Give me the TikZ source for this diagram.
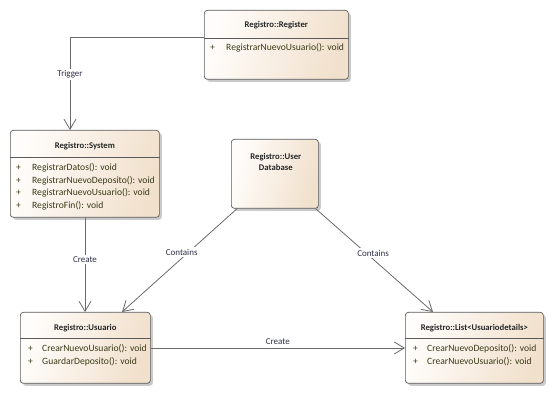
\documentclass[tikz,border=0pt]{standalone}
\usepackage{fontspec}
\setmainfont{Carlito}
\usetikzlibrary{arrows.meta,calc,shadows}

\definecolor{boxedge}{HTML}{5A5A5A}
\definecolor{boxlight}{HTML}{FFFDFB}
\definecolor{boxdark}{HTML}{F1E0CC}
\definecolor{wire}{HTML}{6A6A6A}
\definecolor{optext}{HTML}{3A3A18}
\definecolor{lbltext}{HTML}{2E2E48}

\tikzset{
  umlbox/.style={draw=boxedge, line width=0.7pt, rounded corners=3pt,
    left color=boxlight, right color=boxdark, shading angle=75,
    drop shadow={shadow xshift=2.5pt, shadow yshift=-2.5pt, opacity=0.35, fill=black!60},
    anchor=north west, inner sep=0pt},
  boxtitle/.style={font=\fontsize{8.7}{10.5}\selectfont\bfseries, text=black!85, inner sep=0pt},
  optxt/.style={font=\fontsize{9.6}{11}\selectfont, text=optext, anchor=west, inner sep=0pt},
  sepline/.style={draw=boxedge, line width=0.6pt},
  conn/.style={draw=wire, line width=0.8pt, -{Straight Barb[length=10pt,width=12pt,line width=0.8pt]}},
  lbl/.style={font=\fontsize{9}{10}\selectfont, text=lbltext, fill=white, inner sep=1.5pt}
}

\begin{document}
\begin{tikzpicture}[x=1pt, y=-1pt]
\useasboundingbox (0,0) rectangle (550,411);

% Registro::Register
\node[umlbox, minimum width=144, minimum height=69] (reg) at (204,10) {};
\node[boxtitle] (regT) at ($(reg.north)+(0,15)$) {Registro::Register};
\draw[sepline] ($(reg.north west)+(0,28)$) -- ($(reg.north east)+(0,28)$);
\node[optxt] (regP1) at ($(reg.north west)+(6,38)$) {+};
\node[optxt] (regM1) at ($(reg.north west)+(22,38)$) {RegistrarNuevoUsuario(): void};

% Registro::System
\node[umlbox, minimum width=149, minimum height=87] (sys) at (10,130) {};
\node[boxtitle] (sysT) at ($(sys.north)+(0,16)$) {Registro::System};
\draw[sepline] ($(sys.north west)+(0,27)$) -- ($(sys.north east)+(0,27)$);
\node[optxt] (sysP1) at ($(sys.north west)+(6,38)$) {+};
\node[optxt] (sysM1) at ($(sys.north west)+(22,38)$) {RegistrarDatos(): void};
\node[optxt] (sysP2) at ($(sys.north west)+(6,51)$) {+};
\node[optxt] (sysM2) at ($(sys.north west)+(22,51)$) {RegistrarNuevoDeposito(): void};
\node[optxt] (sysP3) at ($(sys.north west)+(6,63)$) {+};
\node[optxt] (sysM3) at ($(sys.north west)+(22,63)$) {RegistrarNuevoUsuario(): void};
\node[optxt] (sysP4) at ($(sys.north west)+(6,76)$) {+};
\node[optxt] (sysM4) at ($(sys.north west)+(22,76)$) {RegistroFin(): void};

% Registro::User Database
\node[umlbox, minimum width=87, minimum height=69] (udb) at (231,139) {};
\node[boxtitle, align=center] (udbT) at ($(udb.north)+(1,23)$) {Registro::User\\Database};

% Registro::Usuario
\node[umlbox, minimum width=130, minimum height=71] (usu) at (20,312) {};
\node[boxtitle] (usuT) at ($(usu.north)+(0,16)$) {Registro::Usuario};
\draw[sepline] ($(usu.north west)+(0,26)$) -- ($(usu.north east)+(0,26)$);
\node[optxt] (usuP1) at ($(usu.north west)+(8,37)$) {+};
\node[optxt] (usuM1) at ($(usu.north west)+(22,37)$) {CrearNuevoUsuario(): void};
\node[optxt] (usuP2) at ($(usu.north west)+(8,50)$) {+};
\node[optxt] (usuM2) at ($(usu.north west)+(22,50)$) {GuardarDeposito(): void};

% Registro::List<Usuariodetails>
\node[umlbox, minimum width=138, minimum height=71] (lst) at (405,312) {};
\node[boxtitle] (lstT) at ($(lst.north)+(0,16)$) {Registro::List<Usuariodetails>};
\draw[sepline] ($(lst.north west)+(0,26)$) -- ($(lst.north east)+(0,26)$);
\node[optxt] (lstP1) at ($(lst.north west)+(8,37)$) {+};
\node[optxt] (lstM1) at ($(lst.north west)+(22,37)$) {CrearNuevoDeposito(): void};
\node[optxt] (lstP2) at ($(lst.north west)+(8,50)$) {+};
\node[optxt] (lstM2) at ($(lst.north west)+(22,50)$) {CrearNuevoUsuario(): void};

% Connectors
\draw[conn] ($(reg.north west)+(0,27)$) -| ($(sys.north west)+(60,0)$)
  node[lbl, pos=0.70] {Trigger};
\draw[conn] ($(sys.south west)+(75,0)$) -- ($(usu.north west)+(65,0)$)
  node[lbl, pos=0.44] {Create};
\draw[conn] ($(udb.south west)+(6,0)$) -- ($(usu.north west)+(102,0)$)
  node[lbl, pos=0.42, xshift=-7pt] {Contains};
\draw[conn] ($(udb.south east)+(-3,0)$) -- ($(lst.north west)+(28,0)$)
  node[lbl, pos=0.43, xshift=7pt] {Contains};
\draw[conn] ($(usu.north east)+(0,36)$) -- ($(lst.north west)+(0,36)$)
  node[lbl, fill=none, pos=0.5, above=2pt] {Create};
\end{tikzpicture}
\end{document}
